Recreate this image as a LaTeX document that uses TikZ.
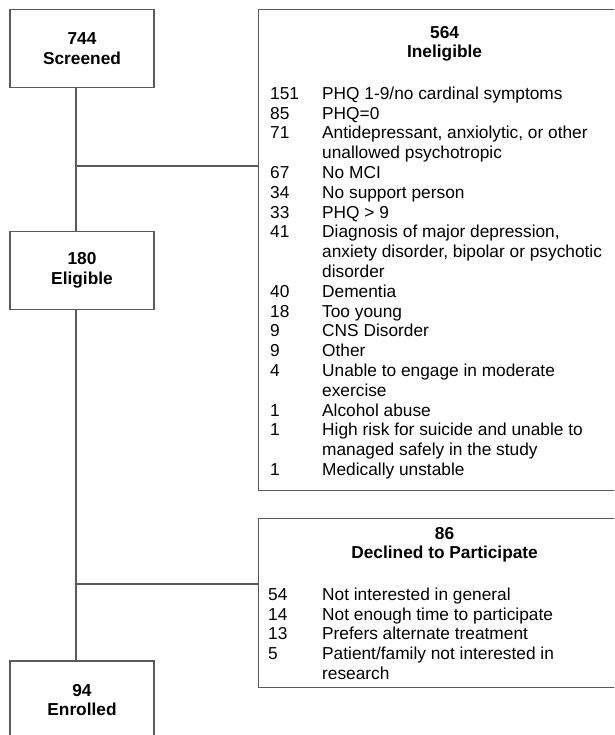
\documentclass[tikz,border=0pt]{standalone}
\usepackage{fontspec}
\setmainfont{Liberation Sans}
\usepackage{tikz}
\usetikzlibrary{positioning}
\definecolor{linegray}{RGB}{90,90,90}

\begin{document}
\begin{tikzpicture}[x=1pt,y=-1pt,
        font=\fontsize{17.3}{19.8}\selectfont,
        box/.style={draw=linegray, line width=1.2pt, inner sep=0pt},
        stage/.style={box, minimum width=144pt, minimum height=78pt, align=center,
            font=\fontsize{17.3}{19.8}\selectfont\bfseries},
        heading/.style={inner sep=0pt, align=center, anchor=north,
            font=\fontsize{17.3}{19.8}\selectfont\bfseries},
        items/.style={inner sep=0pt, anchor=north west},
        link/.style={draw=linegray, line width=1.2pt}]
        \clip (0,0) rectangle (614,735);
        % left column
        \node[stage] (screened) at (82,48.5) {744\\Screened};
        \node[stage] (eligible) at (82,270.5) {180\\Eligible};
        \node[stage] (enrolled) at (82,700) {94\\Enrolled};
        % exclusion boxes
        \node[box, anchor=north west, minimum width=372pt, minimum height=481pt] (inelig) at (258,9) {};
        \node[heading] (ineligHead) at ([yshift=-16.8pt]inelig.north) {564\\Ineligible};
        \node[items] (ineligList) at (270,85.3) {%
            \begin{tabular}{@{}p{52pt}@{}l@{}}
            151 & PHQ 1-9/no cardinal symptoms\\
            85  & PHQ=0\\
            71  & Antidepressant, anxiolytic, or other\\
                & unallowed psychotropic\\
            67  & No MCI\\
            34  & No support person\\
            33  & PHQ > 9\\
            41  & Diagnosis of major depression,\\
                & anxiety disorder, bipolar or psychotic\\
                & disorder\\
            40  & Dementia\\
            18  & Too young\\
            9   & CNS Disorder\\
            9   & Other\\
            4   & Unable to engage in moderate\\
                & exercise\\
            1   & Alcohol abuse\\
            1   & High risk for suicide and unable to\\
                & managed safely in the study\\
            1   & Medically unstable
            \end{tabular}};
        \node[box, anchor=north west, minimum width=372pt, minimum height=169pt] (decl) at (258,518) {};
        \node[heading] (declHead) at ([yshift=-8.8pt]decl.north) {86\\Declined to Participate};
        \node[items] (declList) at (268,586.3) {%
            \begin{tabular}{@{}p{54pt}@{}l@{}}
            54 & Not interested in general\\
            14 & Not enough time to participate\\
            13 & Prefers alternate treatment\\
            5  & Patient/family not interested in\\
               & research
            \end{tabular}};
        % connectors
        \coordinate (trunkA) at (76,166);
        \coordinate (trunkB) at (76,584);
        \draw[link] (screened.south -| trunkA) -- (eligible.north -| trunkA);
        \draw[link] (eligible.south -| trunkA) -- (enrolled.north -| trunkA);
        \draw[link] (trunkA) -- (trunkA -| inelig.west);
        \draw[link] (trunkB) -- (trunkB -| decl.west);
\end{tikzpicture}
\end{document}
